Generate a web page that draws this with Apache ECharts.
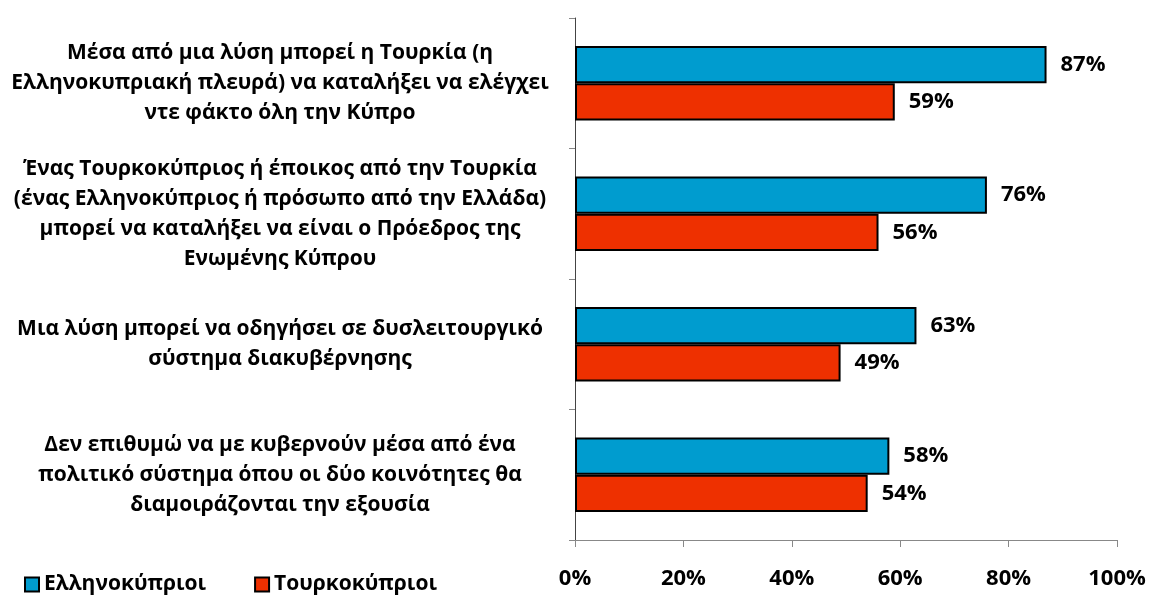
<!DOCTYPE html>
<html>
<head>
<meta charset="utf-8">
<script src="https://cdn.jsdelivr.net/npm/echarts@6/dist/echarts.min.js"></script>
<style>
  html, body { margin: 0; padding: 0; background: #fff; }
  #chart { width: 1152px; height: 597px; }
</style>
</head>
<body>
<div id="chart"></div>
<script>
const categories = [
  'Μέσα από μια λύση μπορεί η Τουρκία (η\nΕλληνοκυπριακή πλευρά) να καταλήξει να ελέγχει\nντε φάκτο όλη την Κύπρο',
  'Ένας Τουρκοκύπριος ή έποικος από την Τουρκία\n(ένας Ελληνοκύπριος ή πρόσωπο από την Ελλάδα)\nμπορεί να καταλήξει να είναι ο Πρόεδρος της\nΕνωμένης Κύπρου',
  'Μια λύση μπορεί να οδηγήσει σε δυσλειτουργικό\nσύστημα διακυβέρνησης',
  'Δεν επιθυμώ να με κυβερνούν μέσα από ένα\nπολιτικό σύστημα όπου οι δύο κοινότητες θα\nδιαμοιράζονται την εξουσία'
]
const greekCypriots = [87, 76, 63, 58]
const turkishCypriots = [59, 56, 49, 54]
const seriesNames = ['Ελληνοκύπριοι', 'Τουρκοκύπριοι']

const font = '"Open Sans", "Noto Sans", sans-serif'

let chart = echarts.init(document.getElementById('chart'))

// ετικέτες τιμών δεξιά από κάθε μπάρα
const valueLabel = {
  show: true,
  position: 'right',
  distance: 14,
  formatter: '{c}%',
  color: '#000',
  fontFamily: font,
  fontWeight: 'bold',
  fontSize: 22
}

const option = {
  animation: false,
  textStyle: { fontFamily: font },
  legend: {
    left: 19,
    top: 569,
    itemWidth: 14,
    itemHeight: 14,
    itemGap: 48,
    icon: 'rect',
    itemStyle: { borderColor: '#000', borderWidth: 2 },
    textStyle: { color: '#000', fontWeight: 'bold', fontSize: 21, fontFamily: font },
    data: seriesNames
  },
  grid: {
    left: 575,
    right: 35,
    top: 18,
    bottom: 57
  },
  xAxis: {
    type: 'value',
    min: 0,
    max: 100,
    interval: 20,
    axisLine: { show: true, lineStyle: { color: '#888', width: 1 } },
    axisTick: { show: true, length: 7, lineStyle: { color: '#888' } },
    splitLine: { show: false },
    axisLabel: {
      formatter: '{value}%',
      color: '#000',
      fontWeight: 'bold',
      fontSize: 22,
      margin: 28
    }
  },
  yAxis: {
    type: 'category',
    inverse: true,
    data: categories,
    axisLine: { show: true, lineStyle: { color: '#444', width: 1 } },
    axisTick: { show: true, length: 6, lineStyle: { color: '#888' } },
    axisLabel: {
      align: 'center',
      margin: 295,
      color: '#000',
      fontWeight: 'bold',
      fontSize: 21,
      lineHeight: 30
    }
  },
  series: [
    {
      name: seriesNames[0],
      type: 'bar',
      data: greekCypriots,
      barGap: '0%',
      barCategoryGap: '43%',
      itemStyle: { color: '#009ccf', borderColor: '#000', borderWidth: 2 },
      label: valueLabel
    },
    {
      name: seriesNames[1],
      type: 'bar',
      data: turkishCypriots,
      itemStyle: { color: '#ee3000', borderColor: '#000', borderWidth: 2 },
      label: valueLabel
    }
  ]
}

chart.setOption(option)
</script>
</body>
</html>
